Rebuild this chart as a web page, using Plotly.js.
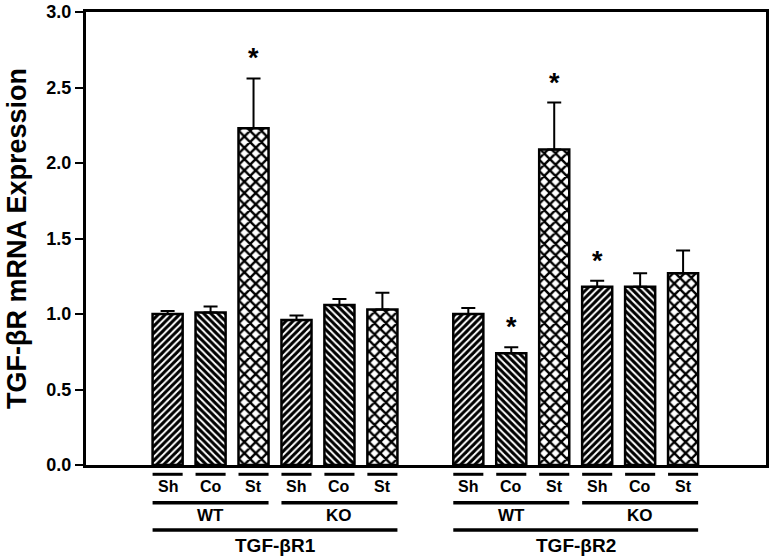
<!DOCTYPE html>
<html>
<head>
<meta charset="utf-8">
<script src="https://cdn.plot.ly/plotly-3.0.1.min.js"></script>
<style>
  html, body { margin: 0; padding: 0; background: #fff; }
  #chart { width: 771px; height: 560px; }
</style>
</head>
<body>
<div id="chart"></div>
<script>
// ---- data ----
const receptors = ['TGF-βR1', 'TGF-βR2'];
const genotypes = ['WT', 'KO'];
const treatments = ['Sh', 'Co', 'St'];

const r1Mean = [1.00, 1.01, 2.23, 0.96, 1.06, 1.03];
const r1Err  = [0.02, 0.04, 0.33, 0.03, 0.04, 0.11];
const r1Sig  = [false, false, true, false, false, false];

const r2Mean = [1.00, 0.74, 2.09, 1.18, 1.18, 1.27];
const r2Err  = [0.04, 0.04, 0.31, 0.04, 0.09, 0.15];
const r2Sig  = [false, true, true, true, false, false];

const yTickVals = [0, 0.5, 1.0, 1.5, 2.0, 2.5, 3.0];

// ---- build ----
const patternOf = { Sh: '/', Co: '\\', St: 'x' };
const sizeOf = { Sh: 5, Co: 5, St: 8 };
const solidOf = { Sh: 0.6, Co: 0.6, St: 0.52 };

const means = [r1Mean, r2Mean];
const errs = [r1Err, r2Err];
const sigs = [r1Sig, r2Sig];

const xs = [], ys = [], es = [], shapesP = [], sizesP = [], solidP = [], labels = [];
const annotations = [];
const shapes = [];
const BW = 0.7;
const slot = (g, k) => g * 7 + k;   // 6 bars per receptor, one empty slot gap

const yLine1 = -0.0205, yLab1 = -0.0479;
const yLine2 = -0.0832, yLab2 = -0.1104;
const yLine3 = -0.1435, yLab3 = -0.1788;
const FAM = 'Liberation Sans, Arial, sans-serif';
const txtFont = { family: FAM, color: '#000', weight: 700 };

receptors.forEach((rec, g) => {
  genotypes.forEach((gt, j) => {
    treatments.forEach((tr, t) => {
      const k = j * 3 + t;
      const x = slot(g, k);
      xs.push(x); ys.push(means[g][k]); es.push(errs[g][k]);
      shapesP.push(patternOf[tr]); sizesP.push(sizeOf[tr]); solidP.push(solidOf[tr]);
      labels.push(rec + ' ' + gt + ' ' + tr);
      shapes.push({ type: 'line', xref: 'x', yref: 'paper', x0: x - BW / 2, x1: x + BW / 2,
                    y0: yLine1, y1: yLine1, line: { color: '#000', width: 3 } });
      annotations.push({ xref: 'x', yref: 'paper', x: x, y: yLab1, yanchor: 'middle', text: '<b>' + tr + '</b>',
                         showarrow: false, font: Object.assign({ size: 16 }, txtFont) });
      if (sigs[g][k]) {
        annotations.push({ xref: 'x', yref: 'y', x: x, y: means[g][k] + errs[g][k], yanchor: 'bottom',
                           yshift: 3, text: '<b>*</b>', showarrow: false,
                           font: Object.assign({ size: 27 }, txtFont) });
      }
    });
    const xa = slot(g, j * 3), xb = slot(g, j * 3 + 2);
    shapes.push({ type: 'line', xref: 'x', yref: 'paper', x0: xa - BW / 2, x1: xb + BW / 2,
                  y0: yLine2, y1: yLine2, line: { color: '#000', width: 3.5 } });
    annotations.push({ xref: 'x', yref: 'paper', x: (xa + xb) / 2, y: yLab2, yanchor: 'middle', text: '<b>' + gt + '</b>',
                       showarrow: false, font: Object.assign({ size: 17 }, txtFont) });
  });
  const xa = slot(g, 0), xb = slot(g, 5);
  shapes.push({ type: 'line', xref: 'x', yref: 'paper', x0: xa - BW / 2, x1: xb + BW / 2,
                y0: yLine3, y1: yLine3, line: { color: '#000', width: 3.5 } });
  annotations.push({ xref: 'x', yref: 'paper', x: (xa + xb) / 2, y: yLab3, yanchor: 'middle', text: '<b>' + rec + '</b>',
                     showarrow: false, font: Object.assign({ size: 19 }, txtFont) });
});

const trace = {
  type: 'bar',
  x: xs, y: ys, width: BW, text: labels, hoverinfo: 'text+y', textposition: 'none',
  marker: {
    color: '#fff',
    line: { color: '#000', width: 2.5 },
    pattern: { shape: shapesP, size: sizesP, solidity: solidP, fgcolor: '#000', fgopacity: 1,
               bgcolor: '#fff', fillmode: 'overlay' }
  },
  error_y: { type: 'data', symmetric: false, array: es, arrayminus: es.map(() => 0),
             color: '#000', thickness: 2, width: 7 },
  showlegend: false
};

const layout = {
  width: 771, height: 560,
  margin: { l: 86, r: 5, t: 12, b: 95 },
  paper_bgcolor: '#fff', plot_bgcolor: '#fff',
  font: { family: FAM, color: '#000' },
  xaxis: {
    range: [-1.9, 13.93], showticklabels: false, ticks: '', showgrid: false, zeroline: false,
    showline: true, mirror: true, linecolor: '#000', linewidth: 3, fixedrange: true
  },
  yaxis: {
    range: [0, 3], tickvals: yTickVals, ticktext: yTickVals.map(v => '<b>' + v.toFixed(1) + '</b>'),
    ticks: 'outside', ticklen: 8, tickwidth: 2, ticklabeloverflow: 'allow',
    tickcolor: '#000', showgrid: false, zeroline: false, showline: true, mirror: true,
    linecolor: '#000', linewidth: 3,
    tickfont: { size: 18, weight: 700, family: FAM, color: '#000' },
    title: { text: '<b>TGF-βR mRNA Expression</b>', standoff: 12,
             font: { size: 27, weight: 700, family: FAM, color: '#000' } },
    fixedrange: true
  },
  shapes: shapes,
  annotations: annotations,
  bargap: 0
};

Plotly.newPlot('chart', [trace], layout, { displayModeBar: false, staticPlot: true });
</script>
</body>
</html>
